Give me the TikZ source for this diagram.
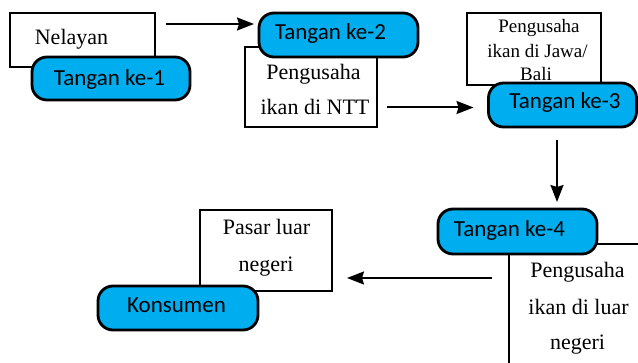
\documentclass[tikz,border=0pt]{standalone}
\usepackage{fontspec}
\setmainfont{Liberation Serif}
\newfontfamily\pillfont{Carlito}
\usetikzlibrary{arrows.meta,calc}
\definecolor{pillblue}{RGB}{0,174,239}
\tikzset{
  boxnode/.style={draw=black, line width=2pt, fill=white, rectangle, inner sep=0pt, outer sep=0pt},
  pillnode/.style={draw=black, line width=2.8pt, fill=pillblue, rectangle, rounded corners=15pt, inner sep=0pt, outer sep=0pt},
  sertext/.style={font=\fontsize{22}{26}\selectfont, inner sep=0pt, anchor=base},
  smalltext/.style={font=\fontsize{19}{23}\selectfont, inner sep=0pt, anchor=base},
  pilltext/.style={font=\pillfont\fontsize{23}{27}\selectfont, inner sep=0pt, anchor=base},
  arr/.style={line width=2pt, -{Stealth[length=17pt,width=13pt,inset=2pt]}}
}
\begin{document}
\begin{tikzpicture}[x=1pt,y=-1pt]
\fill[white] (0,0) rectangle (638,363);
\clip (0,0) rectangle (638,363);
% boxes
\node[boxnode, minimum width=145pt, minimum height=54pt] (nel) at (82.5,40) {};
\node[boxnode, minimum width=132pt, minimum height=80pt] (ntt) at (311,87) {};
\node[boxnode, minimum width=134pt, minimum height=72pt] (jawa) at (534,49) {};
\node[boxnode, minimum width=132pt, minimum height=81pt] (pasar) at (266,250.5) {};
\node[boxnode, minimum width=171pt, minimum height=176pt] (luar) at (594.5,332) {};
% pills
\node[pillnode, minimum width=158pt, minimum height=43pt] (k1) at (111,78.5) {};
\node[pillnode, minimum width=159pt, minimum height=44pt] (k2) at (338.5,35) {};
\node[pillnode, minimum width=148pt, minimum height=44pt] (k3) at (562.5,105) {};
\node[pillnode, minimum width=159pt, minimum height=45pt] (k4) at (517.5,231.5) {};
\node[pillnode, minimum width=160pt, minimum height=44pt] (kons) at (178,308) {};
% box texts
\node[sertext] (tnel) at (71.5,45) {Nelayan};
\node[sertext] (tntt1) at (313.5,80) {Pengusaha};
\node[sertext] (tntt2) at (315,115) {ikan di NTT};
\node[smalltext] (tjw1) at (539,33) {Pengusaha};
\node[smalltext] (tjw2) at (537.5,58) {ikan di Jawa/};
\node[smalltext] (tjw3) at (536,80.5) {Bali};
\node[sertext] (tps1) at (266.5,235) {Pasar luar};
\node[sertext] (tps2) at (266,272) {negeri};
\node[sertext] (tln1) at (577.5,278) {Pengusaha};
\node[sertext] (tln2) at (578.5,315) {ikan di luar};
\node[sertext] (tln3) at (577.5,350) {negeri};
% pill texts
\node[pilltext] (tk1) at (109.5,86) {Tangan ke-1};
\node[pilltext] (tk2) at (330.5,40) {Tangan ke-2};
\node[pilltext] (tk3) at (565,108.5) {Tangan ke-3};
\node[pilltext] (tk4) at (509.5,237) {Tangan ke-4};
\node[pilltext] (tkons) at (176.5,313) {Konsumen};
% arrows
\draw[arr] ($(nel.north east)+(11,11)$) -- ($(k2.west)+(-5,-11)$);
\draw[arr] ($(ntt.east)+(10,20.5)$) -- ($(k3.west)+(-15,2.5)$);
\draw[arr] ($(k3.south)+(-5.5,13)$) -- ($(k4.north)+(39.5,-7)$);
\draw[arr] ($(k4.south)+(-25.5,24)$) -- ($(pasar.east)+(15,27.5)$);
\end{tikzpicture}
\end{document}
